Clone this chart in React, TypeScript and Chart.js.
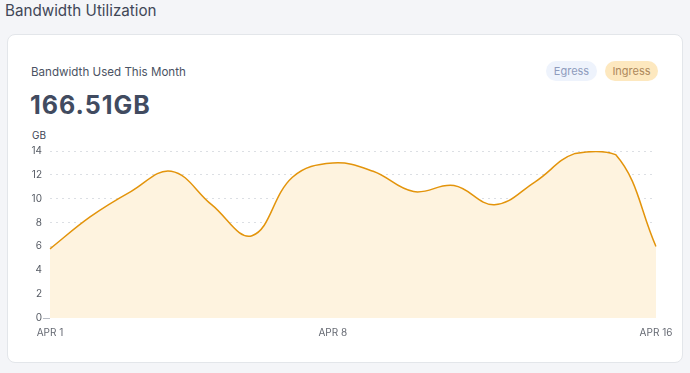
import React, { useEffect, useRef } from "react";
import { Chart, registerables } from "chart.js";

Chart.register(...registerables);

const days: string[] = [
  "APR 1", "APR 2", "APR 3", "APR 4", "APR 5", "APR 6", "APR 7", "APR 8",
  "APR 9", "APR 10", "APR 11", "APR 12", "APR 13", "APR 14", "APR 15", "APR 16",
];
const ingressGB: number[] = [5.8, 8.5, 10.6, 12.3, 9.5, 6.9, 11.8, 13.0, 12.3, 10.6, 11.1, 9.5, 11.4, 13.8, 13.7, 6.0];
const shownTicks: string[] = ["APR 1", "APR 8", "APR 16"];
const yTicks: number[] = [0, 2, 4, 6, 8, 10, 12, 14];

const FONT = "Inter, 'Noto Sans', sans-serif";

export default function App() {
  const ref = useRef<HTMLCanvasElement | null>(null);

  useEffect(() => {
    document.body.style.margin = "0";
    document.body.style.background = "#f4f5f8";
    if (!ref.current) return;
    const chart = new Chart(ref.current, {
      type: "line",
      data: {
        labels: days,
        datasets: [
          {
            label: "Ingress",
            data: ingressGB,
            borderColor: "#e3940b",
            backgroundColor: "#fef3df",
            borderWidth: 1.5,
            fill: "origin",
            tension: 0.4,
            pointRadius: 0,
          },
        ],
      },
      options: {
        animation: false,
        responsive: false,
        maintainAspectRatio: false,
        layout: { padding: { left: 20, right: 34, top: 151, bottom: 25 } },
        plugins: { legend: { display: false }, tooltip: { enabled: false } },
        scales: {
          x: {
            grid: { display: false },
            border: { display: false },
            ticks: {
              autoSkip: false,
              maxRotation: 0,
              padding: 1,
              color: "#666a73",
              font: { family: FONT, size: 10 },
              callback: (_v: any, i: number) => (shownTicks.includes(days[i]) ? days[i] : ""),
            },
            afterFit: (s: any) => {
              s.height = 30;
            },
          },
          y: {
            min: 0,
            max: 14,
            afterBuildTicks: (s: any) => {
              s.ticks = yTicks.map((v) => ({ value: v }));
            },
            grid: {
              color: (ctx: any) => (ctx.tick && ctx.tick.value === 0 ? "rgba(0,0,0,0)" : "#dcdfe4"),
              tickColor: (ctx: any) => (ctx.tick && ctx.tick.value === 0 ? "#b8bcc4" : "rgba(0,0,0,0)"),
              tickLength: 7,
              lineWidth: 1,
            },
            border: {
              display: false,
              dash: (ctx: any) => (ctx.tick && ctx.tick.value === 0 ? [] : [2, 4]),
            },
            ticks: {
              padding: 1,
              color: "#555a63",
              font: { family: FONT, size: 10 },
            },
            afterFit: (s: any) => {
              s.width = 30;
            },
          },
        },
      },
    });
    return () => chart.destroy();
  }, []);

  return (
    <div style={{ position: "relative", width: 690, height: 373, fontFamily: FONT, overflow: "hidden" }}>
      <div style={{ position: "absolute", left: 5, top: 1, fontSize: 15.2, color: "#414757", lineHeight: "20px" }}>
        Bandwidth Utilization
      </div>
      <div
        style={{
          position: "absolute",
          left: 7,
          top: 34,
          width: 674,
          height: 327,
          background: "#ffffff",
          border: "1px solid #e3e6ea",
          borderRadius: 8,
        }}
      />
      <div style={{ position: "absolute", left: 31, top: 64, fontSize: 11.6, color: "#4b5363", lineHeight: "16px" }}>
        Bandwidth Used This Month
      </div>
      <div
        style={{
          position: "absolute",
          left: 30,
          top: 90,
          fontSize: 25,
          fontWeight: 700,
          letterSpacing: 1,
          color: "#414b60",
          lineHeight: "30px",
        }}
      >
        166.51GB
      </div>
      <div style={{ position: "absolute", left: 32, top: 129, fontSize: 10, color: "#3d4453", lineHeight: "12px" }}>
        GB
      </div>
      <div
        style={{
          position: "absolute",
          left: 546,
          top: 61,
          width: 51,
          height: 20,
          borderRadius: 10,
          background: "#eef3fc",
          color: "#8f9cbd",
          fontSize: 11,
          lineHeight: "20px",
          textAlign: "center",
        }}
      >
        Egress
      </div>
      <div
        style={{
          position: "absolute",
          left: 605,
          top: 61,
          width: 53,
          height: 20,
          borderRadius: 10,
          background: "#fde8bf",
          color: "#ad885c",
          fontSize: 11,
          lineHeight: "20px",
          textAlign: "center",
        }}
      >
        Ingress
      </div>
      <canvas ref={ref} width={690} height={373} style={{ position: "absolute", left: 0, top: 0 }} />
    </div>
  );
}
